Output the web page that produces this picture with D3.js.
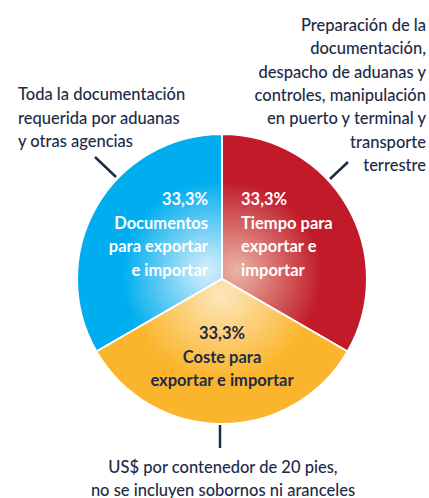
<!DOCTYPE html>
<html>
<head>
<meta charset="utf-8">
<script src="https://cdn.jsdelivr.net/npm/d3@7"></script>
<style>
  html, body { margin: 0; padding: 0; background: #fff; }
  svg { display: block; font-family: Lato, "Open Sans", sans-serif; }
</style>
</head>
<body>
<svg id="chart" width="429" height="498"></svg>
<script>
// Three components of the trading-across-borders indicator, equal weights
const categories = ["Documentos", "Tiempo", "Coste"];
const values = [33.3, 33.3, 33.3];
const sliceLabels = [
  ["Documentos", "para exportar", "e importar"],
  ["Tiempo para", "exportar e", "importar"],
  ["Coste para", "exportar e importar"]
];
const sliceColors = ["#00aeef", "#c11b29", "#fbb52c"];
const sliceHighlights = ["#d6eefa", "#eab3a3", "#fde6bb"];
const sliceText = ["#ffffff", "#ffffff", "#1d2b47"];
const notes = [
  ["Toda la documentación", "requerida por aduanas", "y otras agencias"],
  ["Preparación de la", "documentación,", "despacho de aduanas y", "controles, manipulación", "en puerto y terminal y", "transporte", "terrestre"],
  ["US$ por contenedor de 20 pies,", "no se incluyen sobornos ni aranceles"]
];

const navy = "#1d2b47";
const svg = d3.select("#chart");
const cx = 222, cy = 279, radius = 145;

const pie = d3.pie().sort(null).value(d => d)
  .startAngle(-2 * Math.PI / 3).endAngle(4 * Math.PI / 3);
const arcs = pie(values);
const arc = d3.arc().innerRadius(0).outerRadius(radius);

// radial gradients, pale near the pie centre
const defs = svg.append("defs");
categories.forEach((c, i) => {
  const a = (arcs[i].startAngle + arcs[i].endAngle) / 2;
  const g = defs.append("radialGradient")
    .attr("id", "grad" + i)
    .attr("gradientUnits", "userSpaceOnUse")
    .attr("cx", 0).attr("cy", 0).attr("r", radius)
    .attr("fx", Math.sin(a) * 18).attr("fy", -Math.cos(a) * 18);
  g.append("stop").attr("offset", "0%").attr("stop-color", sliceHighlights[i]);
  g.append("stop").attr("offset", "65%").attr("stop-color", sliceColors[i]);
  g.append("stop").attr("offset", "100%").attr("stop-color", sliceColors[i]);
});

const pieG = svg.append("g").attr("transform", `translate(${cx},${cy})`);
pieG.selectAll("path.slice")
  .data(arcs)
  .join("path")
  .attr("class", "slice")
  .attr("d", arc)
  .attr("fill", (d, i) => `url(#grad${i})`)
  .attr("stroke", "#fff")
  .attr("stroke-width", 2);

// slice labels
const labelPos = [
  { x: 208 - cx, y: 199 - cy, anchor: "end" },
  { x: 241 - cx, y: 199 - cy, anchor: "start" },
  { x: 0, y: 333 - cy, anchor: "middle" }
];
const lineH = 23.5;
arcs.forEach((d, i) => {
  const p = labelPos[i];
  const t = pieG.append("text")
    .attr("text-anchor", p.anchor)
    .attr("fill", sliceText[i])
    .attr("font-size", 16.5)
    .attr("font-weight", 700)
    .attr("dominant-baseline", "central");
  const lines = [d3.format(".1f")(d.data).replace(".", ",") + "%"].concat(sliceLabels[i]);
  lines.forEach((l, k) => {
    t.append("tspan").attr("x", p.x).attr("y", p.y + k * lineH).text(l);
  });
});

// annotation text
function block(lines, x, y, anchor, step) {
  const t = svg.append("text")
    .attr("text-anchor", anchor)
    .attr("fill", navy)
    .attr("font-size", 16.5)
    .attr("font-weight", 500)
    .attr("dominant-baseline", "central");
  lines.forEach((l, k) => t.append("tspan").attr("x", x).attr("y", y + k * step).text(l));
}
block(notes[0], 18, 94, "start", 23.5);
block(notes[1], 426, 25, "end", 23.3);
block(notes[2], 223, 467, "middle", 22.5);

// leader lines
const leaders = [
  [[95, 157], [116, 177]],
  [[348, 162], [330, 179]],
  [[220, 425], [220, 448]]
];
svg.selectAll("line.leader")
  .data(leaders)
  .join("line")
  .attr("class", "leader")
  .attr("x1", d => d[0][0]).attr("y1", d => d[0][1])
  .attr("x2", d => d[1][0]).attr("y2", d => d[1][1])
  .attr("stroke", navy)
  .attr("stroke-width", 2.5);
</script>
</body>
</html>
